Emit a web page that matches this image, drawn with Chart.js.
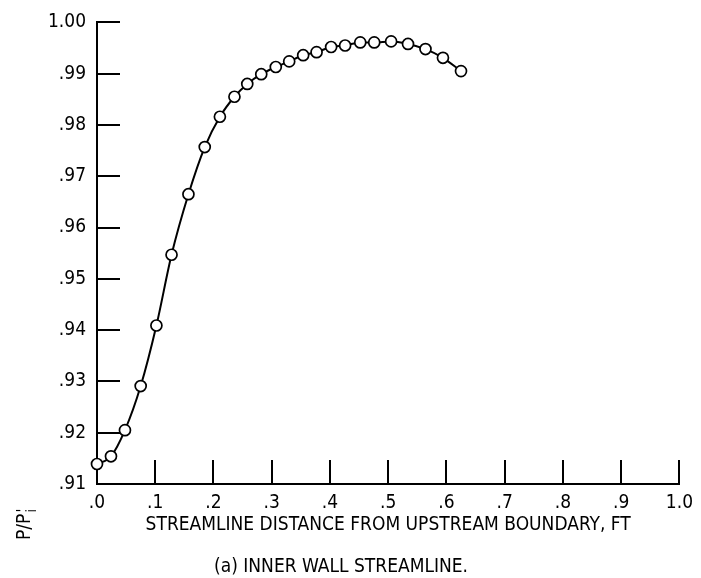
<!DOCTYPE html>
<html>
<head>
<meta charset="utf-8">
<title>Inner wall streamline</title>
<script src="https://cdn.jsdelivr.net/npm/chart.js@4/dist/chart.umd.min.js"></script>
<style>
  html, body { margin: 0; padding: 0; background: #fff; }
  #wrap { width: 701px; height: 578px; }
</style>
</head>
<body>
<div id="wrap"><canvas id="streamline-chart" width="701" height="578"></canvas></div>
<script>
// streamline distance, ft
const distanceFt = [
  0.000, 0.024, 0.048, 0.075, 0.102, 0.128, 0.157, 0.185, 0.211, 0.236,
  0.258, 0.282, 0.307, 0.330, 0.354, 0.377, 0.402, 0.426, 0.452, 0.476,
  0.505, 0.534, 0.564, 0.594, 0.625
];
// static pressure ratio P/P'i
const pressureRatio = [
  0.9139, 0.9154, 0.9205, 0.9291, 0.9409, 0.9547, 0.9665, 0.9757, 0.9816, 0.9855,
  0.9880, 0.9899, 0.9913, 0.9924, 0.9936, 0.9942, 0.9952, 0.9955, 0.9961, 0.9961,
  0.9963, 0.9958, 0.9948, 0.9931, 0.9905
];
const xTickLabels = ['.0', '.1', '.2', '.3', '.4', '.5', '.6', '.7', '.8', '.9', '1.0'];
const yTickLabels = ['.91', '.92', '.93', '.94', '.95', '.96', '.97', '.98', '.99', '1.00'];

const fontFamily = '"Liberation Sans Narrow", "DejaVu Sans Condensed", sans-serif';
const ink = '#000';

// short tick marks pointing into the plot, like the original drafting
const innerTicks = {
  id: 'innerTicks',
  beforeDatasetsDraw(chart) {
    const { ctx, chartArea, scales } = chart;
    ctx.save();
    ctx.strokeStyle = ink;
    ctx.lineWidth = 2;
    ctx.beginPath();
    scales.y.ticks.forEach((t, i) => {
      if (i === 0) return;
      const y = Math.round(scales.y.getPixelForValue(t.value));
      ctx.moveTo(chartArea.left, y);
      ctx.lineTo(chartArea.left + 23, y);
    });
    scales.x.ticks.forEach((t, i) => {
      if (i === 0) return;
      const x = Math.round(scales.x.getPixelForValue(t.value));
      ctx.moveTo(x, chartArea.bottom);
      ctx.lineTo(x, chartArea.bottom - 24);
    });
    ctx.stroke();
    ctx.restore();
  }
};

// rotated y label P/P'i, prime stacked over the subscript
const yAxisLabel = {
  id: 'yAxisLabel',
  afterDraw(chart) {
    const { ctx } = chart;
    ctx.save();
    ctx.translate(30, 540);
    ctx.rotate(-Math.PI / 2);
    ctx.fillStyle = ink;
    ctx.textBaseline = 'alphabetic';
    ctx.font = '19px ' + fontFamily;
    ctx.fillText('P/P', 0, 0);
    const w = ctx.measureText('P/P').width;
    ctx.font = '16px ' + fontFamily;
    ctx.fillText("'", w + 1, -2);
    ctx.font = '14px ' + fontFamily;
    ctx.fillText('i', w + 1, 6);
    ctx.restore();
  }
};

new Chart(document.getElementById('streamline-chart'), {
  type: 'scatter',
  data: {
    datasets: [{
      data: distanceFt.map((x, i) => ({ x: x, y: pressureRatio[i] })),
      showLine: true,
      borderColor: ink,
      borderWidth: 2,
      cubicInterpolationMode: 'monotone',
      pointRadius: 5.5,
      pointBorderWidth: 1.7,
      pointBorderColor: ink,
      pointBackgroundColor: '#fff',
      clip: false
    }]
  },
  options: {
    responsive: false,
    animation: false,
    devicePixelRatio: 1,
    events: [],
    layout: { padding: { top: 21, right: 19, left: 0, bottom: 0 } },
    plugins: {
      legend: { display: false },
      tooltip: { enabled: false },
      title: {
        display: true,
        position: 'bottom',
        text: '(a) INNER WALL STREAMLINE.',
        color: ink,
        font: { family: fontFamily, size: 19, weight: 'normal' },
        padding: { top: 8, bottom: 0 }
      }
    },
    scales: {
      x: {
        type: 'linear',
        min: 0,
        max: 1.0,
        grid: { display: false, drawTicks: false },
        border: { display: true, color: ink, width: 2 },
        ticks: {
          stepSize: 0.1,
          color: ink,
          padding: 8,
          font: { family: fontFamily, size: 19 },
          callback: (v, i) => xTickLabels[i]
        },
        title: {
          display: true,
          text: 'STREAMLINE DISTANCE FROM UPSTREAM BOUNDARY, FT',
          color: ink,
          font: { family: fontFamily, size: 19 },
          padding: { top: 0, bottom: 11 }
        },
        afterFit: (scale) => { scale.height = 63.2; }
      },
      y: {
        type: 'linear',
        min: 0.91,
        max: 1.0,
        grid: { display: false, drawTicks: false },
        border: { display: true, color: ink, width: 2 },
        ticks: {
          stepSize: 0.01,
          color: ink,
          padding: 11,
          font: { family: fontFamily, size: 19 },
          callback: (v, i) => yTickLabels[i]
        },
        afterFit: (scale) => { scale.width = 97; }
      }
    }
  },
  plugins: [innerTicks, yAxisLabel]
});
</script>
</body>
</html>
